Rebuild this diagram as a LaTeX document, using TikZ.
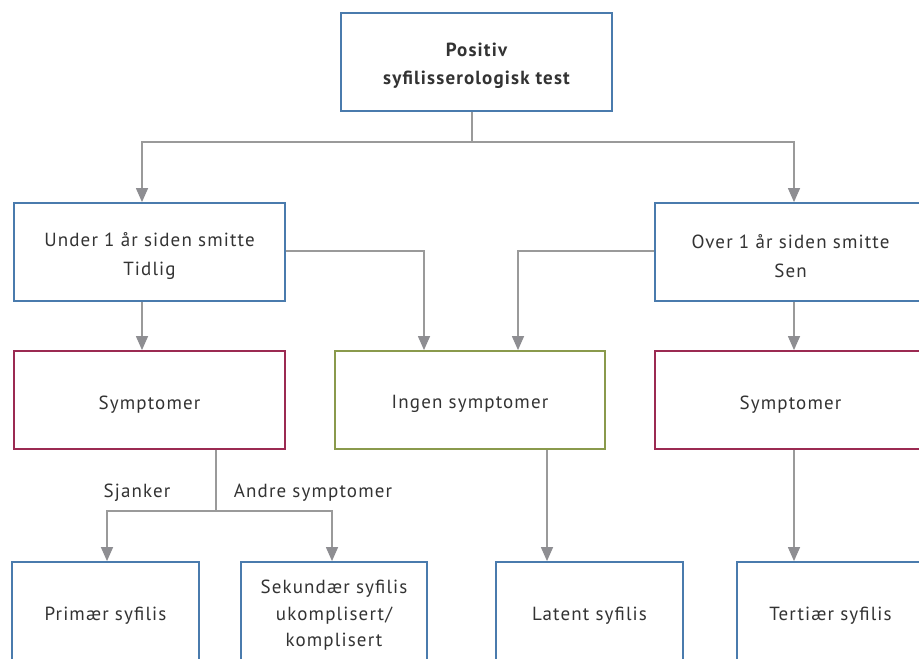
\documentclass[tikz,border=0pt]{standalone}
\usepackage{fontspec}
\setmainfont{PT Sans}[LetterSpace=6]
\usetikzlibrary{arrows.meta}
\definecolor{bblue}{HTML}{4A7BAD}
\definecolor{bred}{HTML}{9B2A52}
\definecolor{bgreen}{HTML}{8A9A4C}
\definecolor{cgray}{HTML}{9A9A9A}
\definecolor{agray}{HTML}{8E8E92}
\definecolor{tgray}{HTML}{333333}
\newcommand{\dnstrut}{\rule{0pt}{22pt}}
\tikzset{
  boxbase/.style={draw, line width=1.8pt, rectangle, align=center, text=tgray, font=\fontsize{19}{27.5}\selectfont, minimum height=98pt, inner sep=0pt},
  bluebox/.style={boxbase, draw=bblue},
  redbox/.style={boxbase, draw=bred},
  greenbox/.style={boxbase, draw=bgreen},
  conn/.style={draw=cgray, line width=1.3pt},
  arr/.style={conn, -{Triangle[width=12pt,length=14pt,fill=agray,color=agray]}},
  lbl/.style={text=tgray, font=\fontsize{19}{22}\selectfont, inner sep=0pt}
}
\begin{document}
\begin{tikzpicture}[x=1pt,y=-1pt]
\useasboundingbox (0,0) rectangle (919,659);
\clip (0,0) rectangle (919,659);
\fill[white] (0,0) rectangle (919,659);
\node[bluebox, minimum width=271pt, font=\fontsize{19}{28}\selectfont\bfseries] (top) at (476.5,62) {\dnstrut Positiv\\syfilisserologisk test};
\node[bluebox, minimum width=271pt, font=\fontsize{19}{29}\selectfont] (under) at (149.5,252) {\dnstrut Under 1 år siden smitte\\Tidlig};
\node[bluebox, minimum width=271pt, font=\fontsize{19}{29}\selectfont] (over) at (790.5,252) {\dnstrut Over 1 år siden smitte\\Sen};
\node[redbox, minimum width=271pt] (symL) at (149.5,400) {\dnstrut Symptomer};
\node[greenbox, minimum width=270pt] (ingen) at (470,400) {\dnstrut Ingen symptomer};
\node[redbox, minimum width=271pt] (symR) at (790.5,400) {\dnstrut Symptomer};
\node[bluebox, minimum width=187pt] (prim) at (105.5,611) {\dnstrut Primær syfilis};
\node[bluebox, minimum width=186pt, font=\fontsize{19}{26.5}\selectfont] (sek) at (334,611) {\dnstrut Sekundær syfilis\\ukomplisert/\\komplisert};
\node[bluebox, minimum width=187pt] (lat) at (589.5,611) {\dnstrut Latent syfilis};
\node[bluebox, minimum width=187pt] (ter) at (830.5,611) {\dnstrut Tertiær syfilis};
\coordinate (j1) at (472,142);
\coordinate (j2) at (216,511);
\draw[conn] ([xshift=-4.5pt]top.south) -- (j1);
\draw[arr] (j1) -| ([xshift=-7.5pt]under.north);
\draw[arr] (j1) -| ([xshift=3.5pt]over.north);
\draw[arr] ([xshift=-7.5pt]under.south) -- ([xshift=-7.5pt]symL.north);
\draw[arr] ([yshift=1pt]under.east) -| ([xshift=-46pt]ingen.north);
\draw[arr] ([yshift=1pt]over.west) -| ([xshift=48pt]ingen.north);
\draw[arr] ([xshift=3.5pt]over.south) -- ([xshift=3.5pt]symR.north);
\draw[conn] ([xshift=66.5pt]symL.south) -- (j2);
\draw[arr] (j2) -| ([xshift=1.5pt]prim.north);
\draw[arr] (j2) -| ([xshift=-2pt]sek.north);
\draw[arr] ([xshift=77pt]ingen.south) -- ([xshift=-42.5pt]lat.north);
\draw[arr] ([xshift=3.5pt]symR.south) -- ([xshift=-36.5pt]ter.north);
\node[lbl] (sj) at (137,493) {Sjanker};
\node[lbl] (an) at (313,493) {Andre symptomer};
\end{tikzpicture}
\end{document}
